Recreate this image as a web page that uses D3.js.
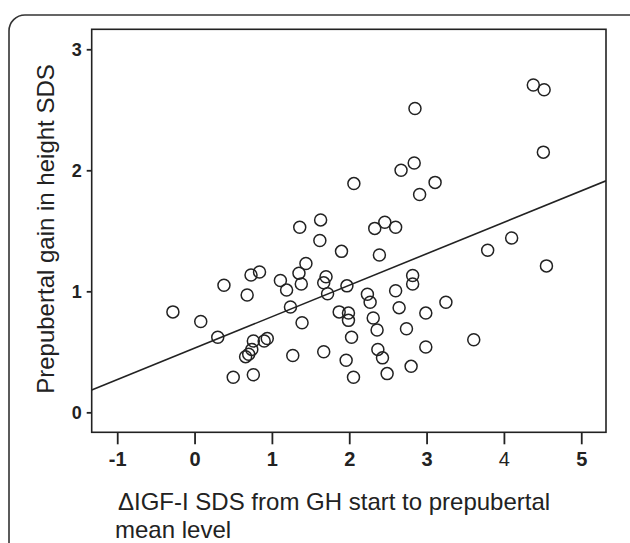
<!DOCTYPE html>
<html>
<head>
<meta charset="utf-8">
<script src="https://cdn.jsdelivr.net/npm/d3@7"></script>
<style>
  body { margin: 0; background: #fff; }
  text { font-family: "Liberation Sans", Arial, sans-serif; fill: #222; }
</style>
</head>
<body>
<div id="chart"></div>
<script>
const width = 630
const height = 543

// scatter values
const xVals = [-0.28, 0.08, 0.30, 0.38, 0.50, 0.68, 0.66, 0.70, 0.74, 0.76, 0.76, 0.73, 0.84, 0.90, 0.94,
  1.11, 1.19, 1.24, 1.27, 1.35, 1.38, 1.39, 1.36, 1.44, 1.62, 1.63, 1.67, 1.70, 1.72, 1.67,
  1.90, 1.87, 1.97, 1.99, 1.99, 1.96, 2.03, 2.055, 2.06, 2.235, 2.27, 2.31, 2.33, 2.36, 2.37,
  2.39, 2.43, 2.46, 2.49, 2.60, 2.60, 2.645, 2.67, 2.74, 2.80, 2.82, 2.82, 2.84, 2.85, 2.91,
  2.99, 2.99, 3.11, 3.25, 3.61, 3.79, 4.10, 4.38, 4.52, 4.51, 4.55]
const yVals = [0.83, 0.75, 0.62, 1.05, 0.29, 0.97, 0.46, 0.48, 0.52, 0.59, 0.31, 1.135, 1.16, 0.59, 0.61,
  1.09, 1.01, 0.87, 0.47, 1.15, 1.06, 0.74, 1.53, 1.23, 1.42, 1.59, 1.07, 1.12, 0.98, 0.50,
  1.33, 0.83, 1.045, 0.82, 0.76, 0.43, 0.62, 0.29, 1.89, 0.975, 0.91, 0.78, 1.52, 0.68, 0.52,
  1.30, 0.45, 1.57, 0.32, 1.53, 1.005, 0.865, 2.00, 0.69, 0.38, 1.13, 1.06, 2.06, 2.51, 1.80,
  0.82, 0.54, 1.90, 0.91, 0.60, 1.34, 1.44, 2.705, 2.665, 2.15, 1.21]

// fit line: y = intercept + slope * x
const fitIntercept = 0.53
const fitSlope = 0.26

const xTicks = [-1, 0, 1, 2, 3, 4, 5]
const yTicks = [0, 1, 2, 3]
const xDomain = [-1.33, 5.32]
const yDomain = [-0.165, 3.165]

const frame = { left: 91.7, right: 606, top: 29.3, bottom: 432.3 }

let svg = d3.select("#chart").append("svg")
    .attr("width", width)
    .attr("height", height)

// rounded outer panel, runs off the right and bottom
svg.append("rect")
    .attr("x", 9).attr("y", 15)
    .attr("width", 660).attr("height", 580)
    .attr("rx", 16).attr("ry", 16)
    .attr("fill", "none")
    .attr("stroke", "#333")
    .attr("stroke-width", 1.6)

let x = d3.scaleLinear().domain(xDomain).range([frame.left, frame.right])
let y = d3.scaleLinear().domain(yDomain).range([frame.bottom, frame.top])

svg.append("clipPath").attr("id", "plotClip")
  .append("rect")
    .attr("x", frame.left).attr("y", frame.top)
    .attr("width", frame.right - frame.left)
    .attr("height", frame.bottom - frame.top)

// regression line
let lineX = xDomain
svg.append("line")
    .attr("clip-path", "url(#plotClip)")
    .attr("x1", x(lineX[0])).attr("y1", y(fitIntercept + fitSlope * lineX[0]))
    .attr("x2", x(lineX[1])).attr("y2", y(fitIntercept + fitSlope * lineX[1]))
    .attr("stroke", "#222")
    .attr("stroke-width", 1.6)

let points = xVals.map((v, i) => ({ x: v, y: yVals[i] }))

svg.append("g")
    .selectAll("circle")
    .data(points)
    .enter()
    .append("circle")
    .attr("cx", d => x(d.x))
    .attr("cy", d => y(d.y))
    .attr("r", 6)
    .attr("fill", "none")
    .attr("stroke", "#222")
    .attr("stroke-width", 1.5)

// frame
svg.append("rect")
    .attr("x", frame.left).attr("y", frame.top)
    .attr("width", frame.right - frame.left)
    .attr("height", frame.bottom - frame.top)
    .attr("fill", "none")
    .attr("stroke", "#222")
    .attr("stroke-width", 1.6)

let xAxis = d3.axisBottom(x).tickValues(xTicks).tickSize(12).tickPadding(8)
    .tickFormat(d => String(d))
let gx = svg.append("g")
    .attr("transform", `translate(0,${frame.bottom})`)
    .call(xAxis)
gx.select(".domain").remove()
gx.selectAll(".tick line").attr("stroke", "#222").attr("stroke-width", 1.8)
gx.selectAll(".tick text")
    .attr("font-size", 20)
    .attr("font-weight", d => d === 4 ? "normal" : "bold")
    .style("font-family", "'Liberation Sans', Arial, sans-serif")
    .attr("fill", "#222")

let yAxis = d3.axisLeft(y).tickValues(yTicks).tickSize(5).tickPadding(5)
    .tickFormat(d => String(d))
let gy = svg.append("g")
    .attr("transform", `translate(${frame.left},0)`)
    .call(yAxis)
gy.select(".domain").remove()
gy.selectAll(".tick line").attr("stroke", "#222").attr("stroke-width", 1.8)
gy.selectAll(".tick text")
    .attr("font-size", 18)
    .attr("font-weight", "bold")
    .style("font-family", "'Liberation Sans', Arial, sans-serif")
    .attr("fill", "#222")

// axis titles
svg.append("text")
    .attr("transform", "translate(54,229) rotate(-90)")
    .attr("text-anchor", "middle")
    .attr("font-size", 24)
    .text("Prepubertal gain in height SDS")

svg.append("text")
    .attr("x", 118).attr("y", 510)
    .attr("font-size", 24)
    .text("\u0394IGF-I SDS from GH start to prepubertal")

svg.append("text")
    .attr("x", 115).attr("y", 538)
    .attr("font-size", 24)
    .text("mean level")
</script>
</body>
</html>
